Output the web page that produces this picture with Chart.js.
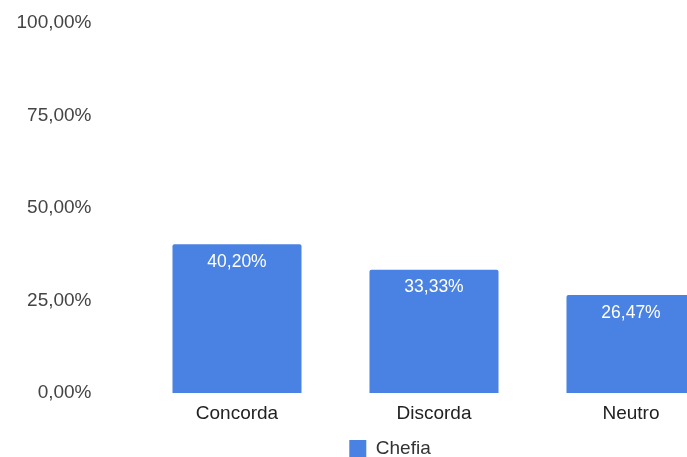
<!DOCTYPE html>
<html>
<head>
<meta charset="utf-8">
<script src="https://cdn.jsdelivr.net/npm/chart.js@4/dist/chart.umd.min.js"></script>
<style>
  html, body { margin: 0; padding: 0; overflow: hidden; background: #fff; }
  #wrap { position: absolute; left: 0; top: 0; width: 780px; height: 468px; }
</style>
</head>
<body>
<div id="wrap"><canvas id="chefiaChart" width="780" height="468"></canvas></div>
<script>
// Dati del grafico
const categorias = ['Concorda', 'Discorda', 'Neutro'];
const valoresChefia = [40.20, 33.33, 26.47];
const ticksY = [0, 25, 50, 75, 100];

const BLU = '#4a82e4';
const FONTE = 'Arial, "Liberation Sans", sans-serif';

function formatPercent(v) {
    return v.toFixed(2).replace('.', ',') + '%';
}

// Etichette bianche dentro le barre
const barLabels = {
    id: 'barLabels',
    afterDatasetsDraw(chart) {
        const ctx = chart.ctx;
        const meta = chart.getDatasetMeta(0);
        ctx.save();
        ctx.fillStyle = '#ffffff';
        ctx.font = '17.5px ' + FONTE;
        ctx.textAlign = 'center';
        ctx.textBaseline = 'top';
        meta.data.forEach(function(bar, i) {
            ctx.fillText(formatPercent(valoresChefia[i]), bar.x, bar.y + 9);
        });
        ctx.restore();
    }
};

new Chart(document.getElementById('chefiaChart'), {
    type: 'bar',
    data: {
        labels: categorias,
        datasets: [{
            label: 'Chefia',
            data: valoresChefia,
            backgroundColor: BLU,
            borderRadius: { topLeft: 2, topRight: 2 },
            borderSkipped: 'bottom',
            categoryPercentage: 1,
            barPercentage: 0.655
        }]
    },
    options: {
        responsive: false,
        animation: false,
        layout: { padding: { left: 0, right: 0, top: 23, bottom: 0 } },
        plugins: {
            tooltip: { enabled: false },
            legend: {
                position: 'bottom',
                labels: {
                    boxWidth: 17,
                    boxHeight: 17,
                    color: '#333',
                    font: { family: FONTE, size: 19 },
                    padding: 10
                }
            }
        },
        scales: {
            x: {
                grid: { display: false, drawTicks: false },
                border: { display: false },
                ticks: {
                    color: '#222',
                    padding: 9,
                    font: { family: FONTE, size: 19 }
                },
                afterFit: function(scale) { scale.height = 36; }
            },
            y: {
                min: 0,
                max: 100,
                afterBuildTicks: function(scale) {
                    scale.ticks = ticksY.map(v => ({ value: v }));
                },
                grid: { display: false, drawTicks: false },
                border: { display: false },
                ticks: {
                    color: '#444',
                    padding: 47,
                    font: { family: FONTE, size: 19 },
                    callback: function(value) { return formatPercent(value); }
                },
                afterFit: function(scale) {
                    scale.width = 138.5;
                    scale.paddingTop = 0;
                    scale.paddingBottom = 0;
                }
            },
            // spazio a destra (il grafico originale continua oltre il bordo)
            spazio: {
                position: 'right',
                grid: { display: false, drawTicks: false },
                border: { display: false },
                ticks: { display: false },
                afterFit: function(scale) { scale.width = 50.5; }
            }
        }
    },
    plugins: [barLabels]
});
</script>
</body>
</html>
